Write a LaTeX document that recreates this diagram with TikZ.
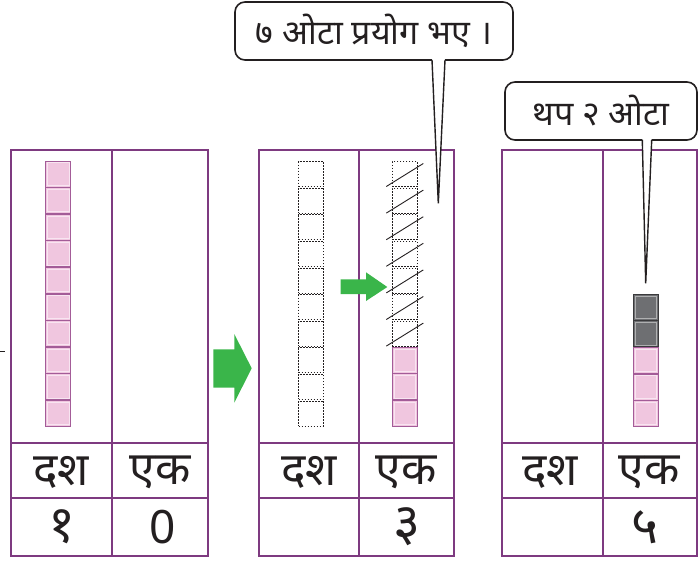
\documentclass[tikz,border=0pt]{standalone}
\usepackage{fontspec}
\newfontfamily\devfont[Script=Devanagari]{Noto Sans}
\usetikzlibrary{positioning, calc}
\definecolor{FramePurple}{HTML}{7E3A80}
\definecolor{BlockPink}{HTML}{F0C6DF}
\definecolor{BlockEdge}{HTML}{A35C98}
\definecolor{BlockGrey}{HTML}{6E6F72}
\definecolor{GreyEdge}{HTML}{3A3A3C}
\definecolor{ArrowGreen}{HTML}{3AB54A}
\definecolor{InkDark}{HTML}{231F20}

\begin{document}
\begin{tikzpicture}[x=1pt, y=-1pt,
    every node/.style={inner sep=0pt, outer sep=0pt},
    frame/.style={draw=FramePurple, line width=1.7pt},
    cubebox/.style={minimum width=25pt, minimum height=26pt, line width=1pt},
    pinkcube/.style={cubebox, draw=BlockEdge, fill=BlockPink,
        path picture={\draw[white!55!BlockPink, line width=1pt]
            ([shift={(1.8pt,-1.8pt)}]path picture bounding box.north west) rectangle
            ([shift={(-1.8pt,1.8pt)}]path picture bounding box.south east);}},
    greycube/.style={cubebox, draw=GreyEdge, fill=BlockGrey,
        path picture={\draw[white!45!BlockGrey, line width=1pt]
            ([shift={(1.8pt,-1.8pt)}]path picture bounding box.north west) rectangle
            ([shift={(-1.8pt,1.8pt)}]path picture bounding box.south east);}},
    emptycube/.style={cubebox, minimum height=25pt, draw=InkDark, line width=0.6pt, dash pattern=on 1.8pt off 1.2pt},
    headtext/.style={font=\devfont\fontsize{46}{52}\selectfont, text=InkDark},
    numtext/.style={font=\devfont\fontsize{52}{58}\selectfont, text=InkDark},
    bubble/.style={draw=InkDark, fill=white, line width=1.6pt, rounded corners=10pt,
        font=\devfont\fontsize{34}{40}\selectfont, text=InkDark},
    greenarrow/.style={fill=ArrowGreen}]
\useasboundingbox (0,0) rectangle (698,560);

% tables
\draw[frame] (11,150) rectangle (208,556) (112,150) -- (112,556) (11,443) -- (208,443) (11,498) -- (208,498);
\draw[frame] (259,150) rectangle (454,556) (359,150) -- (359,556) (259,443) -- (454,443) (259,498) -- (454,498);
\draw[frame] (502,150) rectangle (697,556) (603,150) -- (603,556) (502,443) -- (697,443) (502,498) -- (697,498);

\node[headtext] (tenA) at (61,472) {दश};
\node[headtext] (oneA) at (160,472) {एक};
\node[headtext] (tenB) at (309,472) {दश};
\node[headtext] (oneB) at (406,472) {एक};
\node[headtext] (tenC) at (550,472) {दश};
\node[headtext] (oneC) at (649,472) {एक};

\node[numtext] (valtenA) at (62,527) {१};
\node[font=\devfont\fontsize{46}{52}\selectfont, text=InkDark] (valoneA) at (163,527) {0};
\node[numtext] (valoneB) at (407,527) {३};
\node[numtext] (valoneC) at (645,527) {५};

% the rod of ten
\foreach \i in {0,...,9}
    \node[pinkcube] (rodA-\i) at (58.3,{174+26.6*\i}) {};

% rod taken apart
\foreach \i in {0,...,9}
    \node[emptycube] (rodB-\i) at (311,{174+26.6*\i}) {};
\foreach \i in {0,...,6}{
    \node[emptycube] (usedB-\i) at (404.8,{174+26.6*\i}) {};
    \draw[InkDark, line width=0.9pt] ([xshift=-6pt,yshift=0pt]usedB-\i.south west) -- ([xshift=6pt,yshift=-2pt]usedB-\i.north east);
}
\foreach \i in {7,8,9}
    \node[pinkcube] (leftB-\i) at (404.8,{174+26.6*\i}) {};

% after adding
\node[greycube] (newC-0) at (645.8,307.3) {};
\node[greycube] (newC-1) at (645.8,333.9) {};
\foreach \i in {2,3,4}
    \node[pinkcube] (oldC-\i) at (645.8,{307.3+26.6*\i}) {};

% arrows
\fill[greenarrow] (213.3,349.3) -- (234.3,349.3) -- (234.3,334) -- (251.7,368.3) -- (234.3,402.7) -- (234.3,387.7) -- (213.3,387.7) -- cycle;
\fill[greenarrow] (340.7,279.3) -- (366,279.3) -- (366,272.3) -- (387.3,287) -- (366,301) -- (366,294) -- (340.7,294) -- cycle;

% left edge mark
\draw[InkDark, line width=1pt] (0,351) -- (5,351);

% speech bubbles
\node[bubble, minimum width=278pt, minimum height=58pt] (usedmsg) at (374,31) {७ ओटा प्रयोग भए ।};
\coordinate (usedtip) at (438.3,203.3);
\fill[white] ([xshift=58pt,yshift=2pt]usedmsg.south) -- (usedtip) -- ([xshift=71pt,yshift=2pt]usedmsg.south) -- cycle;
\draw[InkDark, line width=1.4pt, line join=miter] ([xshift=58pt]usedmsg.south) -- (usedtip) -- ([xshift=71pt]usedmsg.south);

\node[bubble, minimum width=192pt, minimum height=58pt] (addmsg) at (601,111) {थप २ ओटा};
\coordinate (addtip) at (645.7,283.3);
\fill[white] ([xshift=41.3pt,yshift=2pt]addmsg.south) -- (addtip) -- ([xshift=50.7pt,yshift=2pt]addmsg.south) -- cycle;
\draw[InkDark, line width=1.4pt, line join=miter] ([xshift=41.3pt]addmsg.south) -- (addtip) -- ([xshift=50.7pt]addmsg.south);
\end{tikzpicture}
\end{document}
